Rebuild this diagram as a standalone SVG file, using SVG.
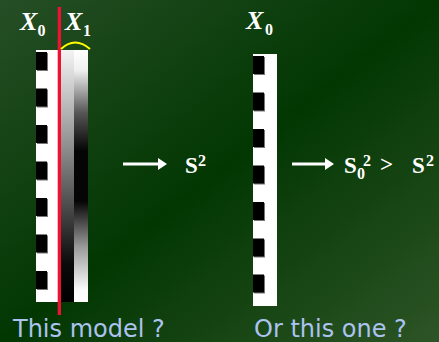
<svg xmlns="http://www.w3.org/2000/svg" width="439" height="342" viewBox="0 0 439 342">
<defs>
<linearGradient id="bg" x1="0" y1="0" x2="1" y2="1">
<stop offset="0" stop-color="#264e26"/>
<stop offset="0.5" stop-color="#023702"/>
<stop offset="1" stop-color="#2d5426"/>
</linearGradient>
<linearGradient id="g1" x1="0" y1="0" x2="0" y2="1">
<stop offset="0" stop-color="#f4f4f4"/>
<stop offset="0.4" stop-color="#8a8a8a"/>
<stop offset="0.85" stop-color="#0a0a0a"/>
<stop offset="1" stop-color="#000"/>
</linearGradient>
<linearGradient id="g2" x1="0" y1="0" x2="0" y2="1">
<stop offset="0" stop-color="#fff"/>
<stop offset="0.08" stop-color="#f0f0f0"/>
<stop offset="0.25" stop-color="#555"/>
<stop offset="0.4" stop-color="#050505"/>
<stop offset="0.6" stop-color="#050505"/>
<stop offset="0.78" stop-color="#999"/>
<stop offset="0.95" stop-color="#fafafa"/>
<stop offset="1" stop-color="#fff"/>
</linearGradient>
<g id="tick"><rect x="1" y="1" width="11" height="18" fill="#777"/><rect x="0" y="0" width="11" height="18" fill="#000"/></g>
</defs>
<style>
.x{font-family:"Liberation Serif","Times New Roman",serif;font-weight:bold;fill:#fff}
.xi{font-style:italic;font-size:26px}
.sub{font-size:16px}
.s{font-size:23px}
.lbl{font-family:"DejaVu Sans",Verdana,sans-serif;font-size:24px;fill:#abc3ee}
.arr{stroke:#fff;stroke-width:2.8}
</style>
<rect width="439" height="342" fill="url(#bg)"/>

<g id="model1">
<rect x="36" y="50" width="52" height="252" fill="#fff"/>
<rect x="61" y="50" width="13" height="252" fill="url(#g1)"/>
<rect x="74" y="50" width="14" height="252" fill="url(#g2)"/>
<use href="#tick" x="36" y="52"/>
<use href="#tick" x="36" y="88.5"/>
<use href="#tick" x="36" y="125"/>
<use href="#tick" x="36" y="161.5"/>
<use href="#tick" x="36" y="198"/>
<use href="#tick" x="36" y="234.5"/>
<use href="#tick" x="36" y="271"/>
<rect x="57.7" y="7" width="3.3" height="308" fill="#ee1133"/>
<path d="M61,49 Q75,36 90,49" fill="none" stroke="#ffff00" stroke-width="2"/>
<text class="x xi" x="20" y="30">X</text><text class="x sub" x="37.5" y="36">0</text>
<text class="x xi" x="65" y="30">X</text><text class="x sub" x="83" y="36">1</text>
</g>

<g id="model2">
<rect x="253" y="54" width="24" height="252" fill="#fff"/>
<use href="#tick" x="253" y="56"/>
<use href="#tick" x="253" y="92.5"/>
<use href="#tick" x="253" y="129"/>
<use href="#tick" x="253" y="165.5"/>
<use href="#tick" x="253" y="202"/>
<use href="#tick" x="253" y="238.5"/>
<use href="#tick" x="253" y="274.5"/>
<text class="x xi" x="246" y="29">X</text><text class="x sub" x="265" y="35">0</text>
</g>

<g id="connectors">
<line class="arr" x1="123" y1="164" x2="160" y2="164"/>
<polygon points="158,158 167,164 158,170" fill="#fff"/>
<line class="arr" x1="292" y1="164" x2="327" y2="164"/>
<polygon points="325,158 334,164 325,170" fill="#fff"/>
</g>

<g id="result1">
<text class="x s" x="185" y="173">S</text><text class="x sub" x="198" y="166">2</text>
</g>
<g id="result2">
<text class="x s" x="344" y="173">S</text><text class="x sub" x="357" y="179">0</text><text class="x sub" x="363" y="166">2</text>
<text class="x s" x="380" y="172">&gt;</text>
<text class="x s" x="412" y="173">S</text><text class="x sub" x="426" y="166">2</text>
</g>

<text class="lbl" x="13" y="337">This model ?</text>
<text class="lbl" x="254" y="337">Or this one ?</text>
</svg>
